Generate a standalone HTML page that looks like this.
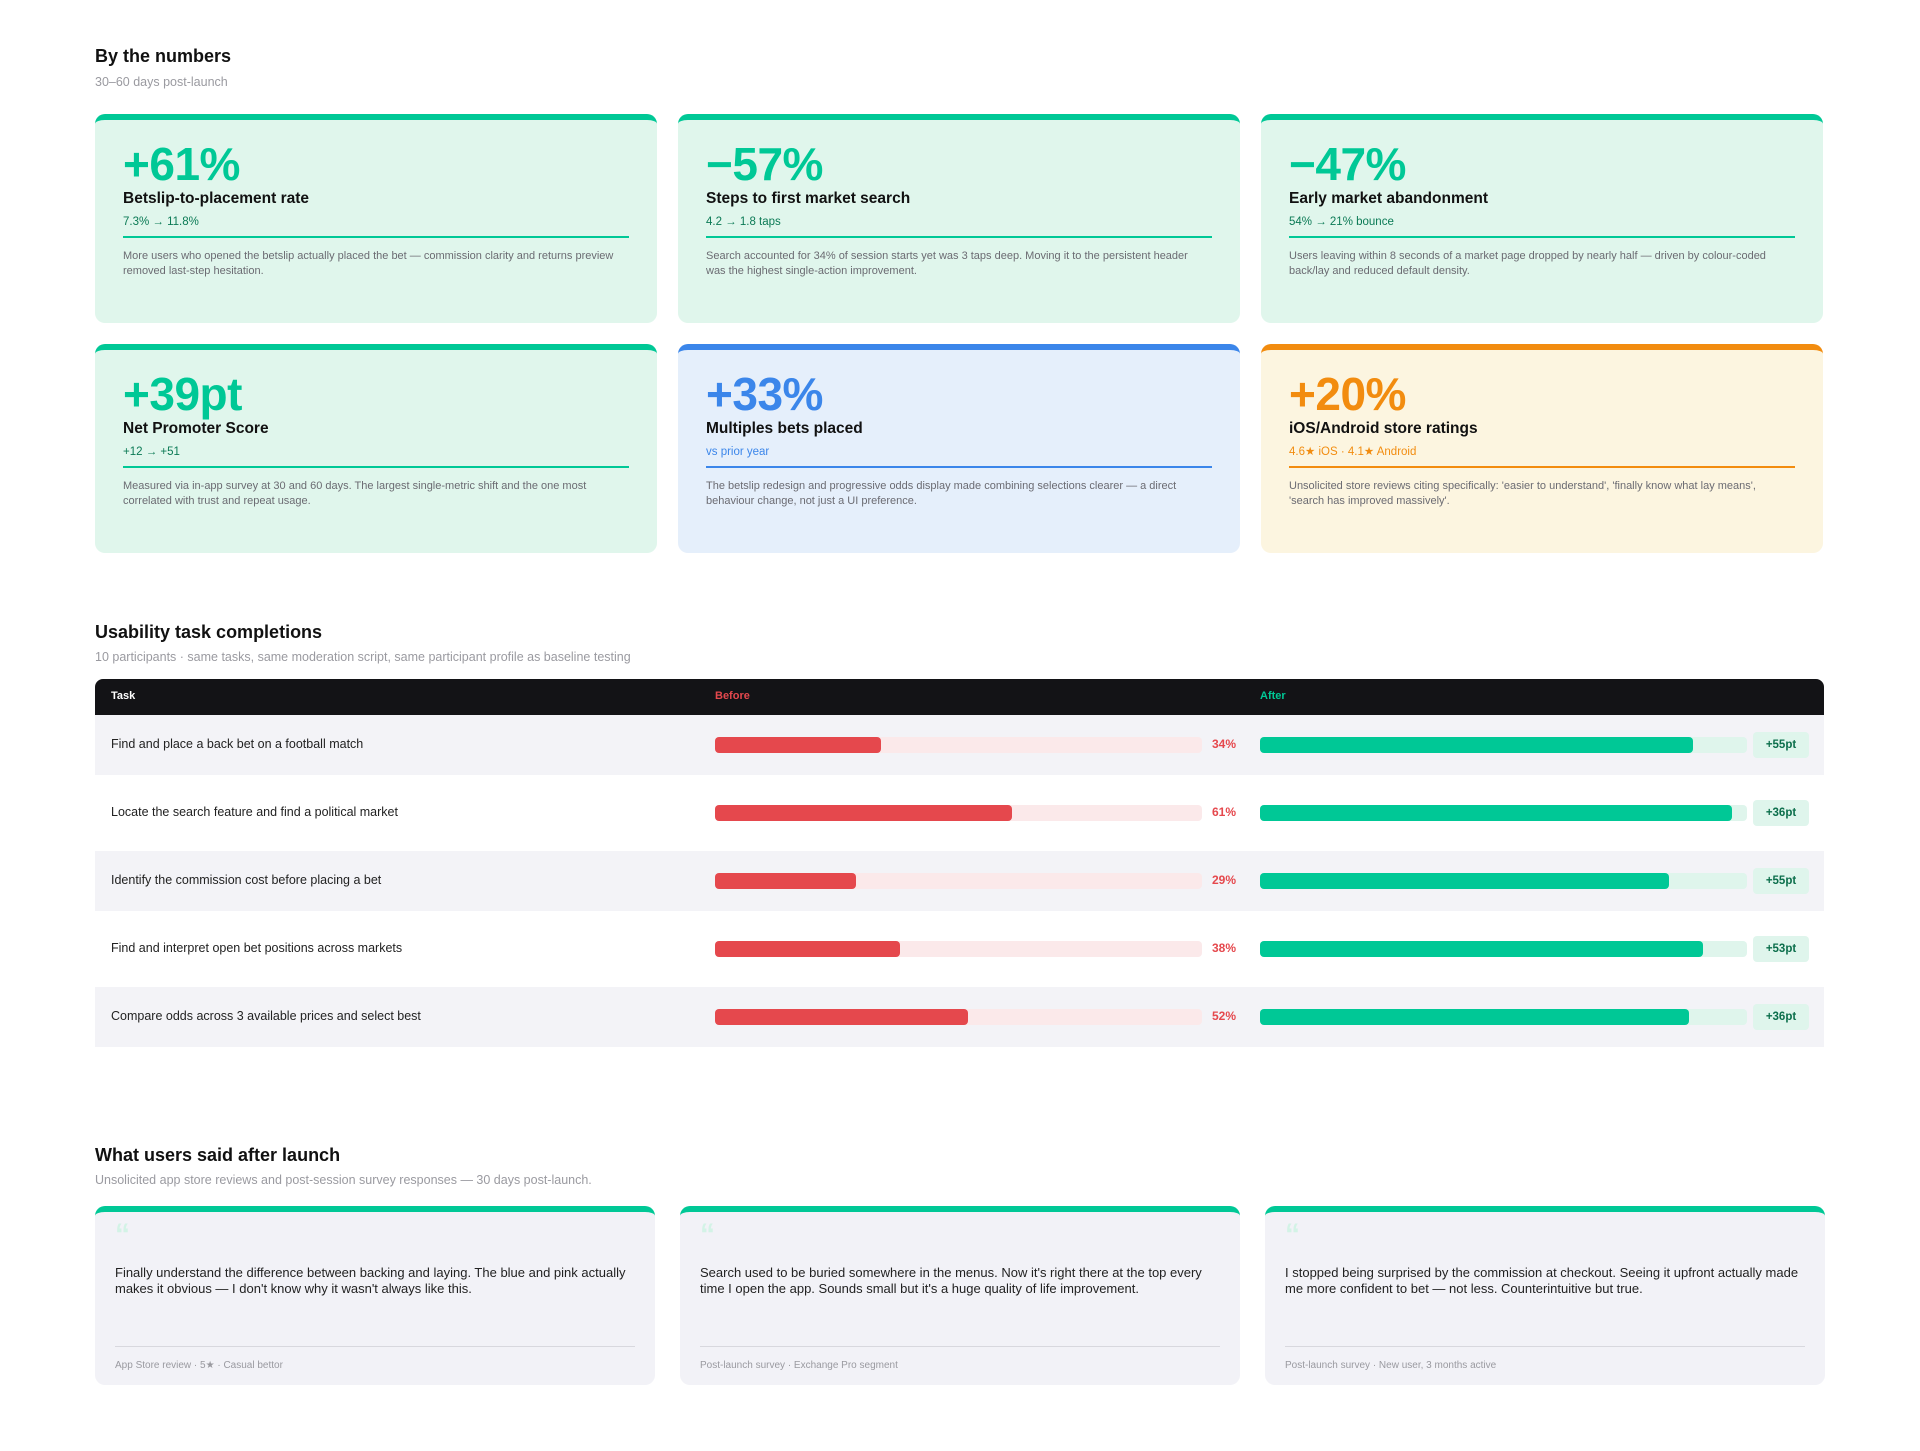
<!DOCTYPE html>
<html><head><meta charset="utf-8"><style>
*{box-sizing:border-box;margin:0;padding:0}
body{width:1920px;height:1451px;background:#fff;font-family:"Liberation Sans",sans-serif;position:relative;overflow:hidden;color:#111}
.abs{position:absolute}
.h2{font-size:18px;font-weight:700;color:#111;line-height:22px}
.sub{font-size:12.5px;color:#9a9aa0;line-height:16px}
.card{position:absolute;width:562px;height:209px;border-radius:10px;border-top:6px solid #00c896;background:#e0f6ec;overflow:hidden}
.card .num{position:absolute;left:28px;top:18px;font-size:46px;font-weight:700;line-height:52px;color:#00c896;letter-spacing:-0.5px}
.card .lbl{position:absolute;left:28px;top:69px;font-size:15.5px;font-weight:700;line-height:20px;color:#111}
.card .sm{position:absolute;left:28px;top:94px;font-size:11.5px;line-height:16px;color:#0b7a55}
.card .ln{position:absolute;left:28px;right:28px;top:116px;height:2px;background:#00c896}
.card .ds{position:absolute;left:28px;right:30px;top:129px;font-size:11px;line-height:15px;color:#6b6b72}
.blue{background:#e5effb;border-top-color:#3b86ea}.blue .num{color:#3b86ea}.blue .sm{color:#3b86ea}.blue .ln{background:#3b86ea}
.orng{background:#fcf5e0;border-top-color:#f28c0f}.orng .num{color:#f28c0f}.orng .sm{color:#f28c0f}.orng .ln{background:#f28c0f}
.q{position:absolute;top:1206px;height:179px;width:560px;border-radius:10px;border-top:6px solid #00c896;background:#f2f2f7}
.q .mk{position:absolute;left:20px;top:8px;font-size:30px;font-weight:700;color:#d3f3e6;line-height:30px}
.q .tx{position:absolute;left:20px;right:22px;top:53px;font-size:13px;line-height:16px;color:#222}
.q .dv{position:absolute;left:20px;right:20px;top:134px;height:1px;background:#d8d8de}
.q .ft{position:absolute;left:20px;top:148px;font-size:10px;color:#9a9aa0}
</style></head><body>
<div class="abs h2" style="left:95px;top:45px">By the numbers</div>
<div class="abs sub" style="left:95px;top:74px">30–60 days post-launch</div>

<div class="card" style="left:95px;top:114px"><div class="num">+61%</div><div class="lbl">Betslip-to-placement rate</div><div class="sm">7.3% → 11.8%</div><div class="ln"></div><div class="ds">More users who opened the betslip actually placed the bet — commission clarity and returns preview removed last-step hesitation.</div></div>
<div class="card" style="left:678px;top:114px"><div class="num">−57%</div><div class="lbl">Steps to first market search</div><div class="sm">4.2 → 1.8 taps</div><div class="ln"></div><div class="ds">Search accounted for 34% of session starts yet was 3 taps deep. Moving it to the persistent header was the highest single-action improvement.</div></div>
<div class="card" style="left:1261px;top:114px"><div class="num">−47%</div><div class="lbl">Early market abandonment</div><div class="sm">54% → 21% bounce</div><div class="ln"></div><div class="ds">Users leaving within 8 seconds of a market page dropped by nearly half — driven by colour-coded back/lay and reduced default density.</div></div>
<div class="card" style="left:95px;top:344px"><div class="num">+39pt</div><div class="lbl">Net Promoter Score</div><div class="sm">+12 → +51</div><div class="ln"></div><div class="ds">Measured via in-app survey at 30 and 60 days. The largest single-metric shift and the one most correlated with trust and repeat usage.</div></div>
<div class="card blue" style="left:678px;top:344px"><div class="num">+33%</div><div class="lbl">Multiples bets placed</div><div class="sm">vs prior year</div><div class="ln"></div><div class="ds">The betslip redesign and progressive odds display made combining selections clearer — a direct behaviour change, not just a UI preference.</div></div>
<div class="card orng" style="left:1261px;top:344px"><div class="num">+20%</div><div class="lbl">iOS/Android store ratings</div><div class="sm">4.6★ iOS · 4.1★ Android</div><div class="ln"></div><div class="ds">Unsolicited store reviews citing specifically: 'easier to understand', 'finally know what lay means', 'search has improved massively'.</div></div>

<div class="abs h2" style="left:95px;top:621px">Usability task completions</div>
<div class="abs sub" style="left:95px;top:649px">10 participants · same tasks, same moderation script, same participant profile as baseline testing</div>

<div class="abs" style="left:95px;top:679px;width:1729px;height:36px;background:#131316;border-radius:8px 8px 0 0">
<div class="abs" style="left:16px;top:11px;font-size:11px;font-weight:700;color:#fff">Task</div>
<div class="abs" style="left:620px;top:11px;font-size:11px;font-weight:700;color:#e5484d">Before</div>
<div class="abs" style="left:1165px;top:11px;font-size:11px;font-weight:700;color:#00c896">After</div>
</div>
<div id="rows"></div>

<div class="abs h2" style="left:95px;top:1144px">What users said after launch</div>
<div class="abs sub" style="left:95px;top:1172px">Unsolicited app store reviews and post-session survey responses — 30 days post-launch.</div>

<div class="q" style="left:95px"><div class="mk">“</div><div class="tx">Finally understand the difference between backing and laying. The blue and pink actually makes it obvious — I don't know why it wasn't always like this.</div><div class="dv"></div><div class="ft">App Store review · 5★ · Casual bettor</div></div>
<div class="q" style="left:680px"><div class="mk">“</div><div class="tx">Search used to be buried somewhere in the menus. Now it's right there at the top every time I open the app. Sounds small but it's a huge quality of life improvement.</div><div class="dv"></div><div class="ft">Post-launch survey · Exchange Pro segment</div></div>
<div class="q" style="left:1265px"><div class="mk">“</div><div class="tx">I stopped being surprised by the commission at checkout. Seeing it upfront actually made me more confident to bet — not less. Counterintuitive but true.</div><div class="dv"></div><div class="ft">Post-launch survey · New user, 3 months active</div></div>

<script>
const tasks=["Find and place a back bet on a football match","Locate the search feature and find a political market","Identify the commission cost before placing a bet","Find and interpret open bet positions across markets","Compare odds across 3 available prices and select best"];
const before=[34,61,29,38,52];
const after=[89,97,84,91,88];
const deltaLabels=["+55pt","+36pt","+55pt","+53pt","+36pt"];
const c=document.getElementById('rows');
const bx=715,bw=487,ax=1260,aw=487;
function sx(v,x0,w){return w*v/100;}
tasks.forEach((t,i)=>{
  const top=715+i*68;
  const r=document.createElement('div');
  
  
  r.style.cssText=`position:absolute;left:95px;top:${top}px;width:1729px;height:60px;background:${i%2==0?'#f3f3f7':'#fff'}`;
  c.appendChild(r);
  const lab=document.createElement('div');
  
  
  lab.textContent=t;
  lab.style.cssText=`position:absolute;left:111px;top:${top+22}px;font-size:12.5px;color:#222`;
  c.appendChild(lab);
  const tb=document.createElement('div');
  
  
  tb.style.cssText=`position:absolute;left:${bx}px;top:${top+22}px;width:${bw}px;height:16px;border-radius:4px;background:#fbe9ea`;
  c.appendChild(tb);
  const b=document.createElement('div');
  
  
  b.style.cssText=`position:absolute;left:${bx}px;top:${top+22}px;width:${sx(before[i],bx,bw)}px;height:16px;border-radius:4px;background:#e5484d`;
  c.appendChild(b);
  const bv=document.createElement('div');
  
  
  bv.textContent=before[i]+'%';
  bv.style.cssText=`position:absolute;left:1212px;top:${top+22}px;font-size:12px;font-weight:700;color:#e5484d`;
  c.appendChild(bv);
  const ta=document.createElement('div');
  
  
  ta.style.cssText=`position:absolute;left:${ax}px;top:${top+22}px;width:${aw}px;height:16px;border-radius:4px;background:#dff5ec`;
  c.appendChild(ta);
  const a=document.createElement('div');
  
  
  a.style.cssText=`position:absolute;left:${ax}px;top:${top+22}px;width:${sx(after[i],ax,aw)}px;height:16px;border-radius:4px;background:#00c896`;
  c.appendChild(a);
  const d=document.createElement('div');
  
  
  d.textContent=deltaLabels[i];
  d.style.cssText=`position:absolute;left:1753px;top:${top+17}px;width:56px;height:26px;border-radius:4px;background:#dff5ec;color:#0b6e4b;font-size:11.5px;font-weight:700;text-align:center;line-height:26px`;
  c.appendChild(d);
});
</script>
</body></html>
